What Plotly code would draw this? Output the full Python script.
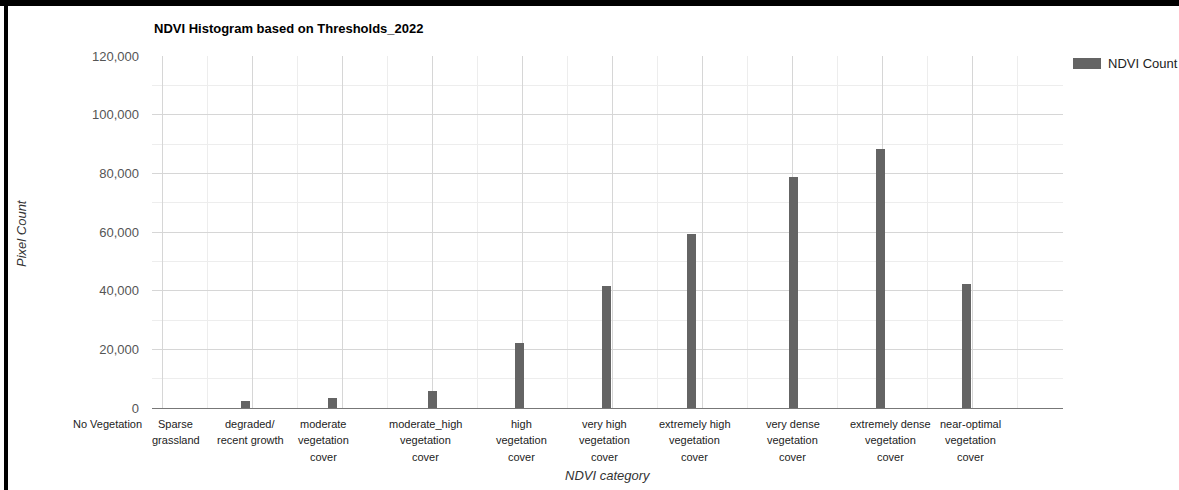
import plotly.graph_objects as go

# NDVI classes, where their labels sit on the NDVI axis, and the histogram counts
categories = [
    "No Vegetation",
    "Sparse\ngrassland",
    "degraded/\nrecent growth",
    "moderate\nvegetation\ncover",
    "moderate_high\nvegetation\ncover",
    "high\nvegetation\ncover",
    "very high\nvegetation\ncover",
    "extremely high\nvegetation\ncover",
    "very dense\nvegetation\ncover",
    "extremely dense\nvegetation\ncover",
    "near-optimal\nvegetation\ncover",
]
label_ndvi = [-0.062, 0.014, 0.097, 0.178, 0.292, 0.398, 0.491, 0.591, 0.700, 0.809, 0.898]
bar_ndvi = [-0.050, 0.000, 0.092, 0.188, 0.300, 0.396, 0.493, 0.588, 0.701, 0.797, 0.893]
pixel_counts = [0, 0, 2400, 3300, 5800, 22300, 41600, 59400, 78700, 88400, 42400]

y_ticks = [0, 20000, 40000, 60000, 80000, 100000, 120000]

W, H = 1179, 490
ML, MR, MT, MB = 152, 116, 56, 82
X_RANGE = [-0.01222, 1.0004]
Y_RANGE = [0, 120000]

FONT = "Liberation Sans, Arial, sans-serif"
BAR_COLOR = "#646464"


def ndvi_to_paper(v):
    return (v - X_RANGE[0]) / (X_RANGE[1] - X_RANGE[0])


def px_x(px):
    return (px - ML) / (W - ML - MR)


def px_y(py):
    return (H - MB - py) / (H - MT - MB)


fig = go.Figure()
fig.add_trace(
    go.Bar(
        x=bar_ndvi,
        y=pixel_counts,
        width=0.01,
        marker=dict(color=BAR_COLOR, line=dict(width=0)),
        name="NDVI Count",
        showlegend=False,
        hoverinfo="x+y",
    )
)

annotations = []

# category labels under the axis, one line at a time
for text, pos in zip(categories, label_ndvi):
    for j, line in enumerate(text.split("\n")):
        annotations.append(
            dict(
                text=line,
                x=ndvi_to_paper(pos),
                y=0,
                xref="paper",
                yref="paper",
                xanchor="center",
                yanchor="middle",
                yshift=-(16 + 16.3 * j),
                showarrow=False,
                font=dict(family=FONT, size=11, color="#222222"),
            )
        )

# title
annotations.append(
    dict(
        text="NDVI Histogram based on Thresholds_2022",
        x=px_x(152),
        y=px_y(28.5),
        xref="paper",
        yref="paper",
        xanchor="left",
        yanchor="middle",
        showarrow=False,
        font=dict(family=FONT, size=13, color="#000000", weight="bold"),
    )
)

# axis titles
annotations.append(
    dict(
        text="NDVI category",
        x=0.5,
        y=px_y(475),
        xref="paper",
        yref="paper",
        xanchor="center",
        yanchor="middle",
        showarrow=False,
        font=dict(family=FONT, size=13, color="#333333", style="italic"),
    )
)
annotations.append(
    dict(
        text="Pixel Count",
        x=px_x(21),
        y=px_y(233),
        xref="paper",
        yref="paper",
        xanchor="center",
        yanchor="middle",
        textangle=-90,
        showarrow=False,
        font=dict(family=FONT, size=13, color="#333333", style="italic"),
    )
)

# legend entry
annotations.append(
    dict(
        text="NDVI Count",
        x=px_x(1106),
        y=px_y(63.5),
        xref="paper",
        yref="paper",
        xanchor="left",
        yanchor="middle",
        showarrow=False,
        font=dict(family=FONT, size=13, color="#222222"),
    )
)

shapes = [
    # legend swatch
    dict(
        type="rect",
        xref="paper",
        yref="paper",
        x0=px_x(1073),
        x1=px_x(1101),
        y0=px_y(69),
        y1=px_y(58),
        fillcolor=BAR_COLOR,
        line=dict(width=0),
    ),
    # frame: top and left edges
    dict(
        type="rect",
        xref="paper",
        yref="paper",
        x0=px_x(0),
        x1=px_x(W),
        y0=px_y(6),
        y1=px_y(0),
        fillcolor="#000000",
        line=dict(width=0),
    ),
    dict(
        type="rect",
        xref="paper",
        yref="paper",
        x0=px_x(4),
        x1=px_x(8),
        y0=px_y(H),
        y1=px_y(0),
        fillcolor="#000000",
        line=dict(width=0),
    ),
]

fig.update_layout(
    width=W,
    height=H,
    margin=dict(l=ML, r=MR, t=MT, b=MB, pad=0),
    paper_bgcolor="#ffffff",
    plot_bgcolor="#ffffff",
    showlegend=False,
    bargap=0,
    font=dict(family=FONT),
    annotations=annotations,
    shapes=shapes,
    xaxis=dict(
        range=X_RANGE,
        tickmode="linear",
        tick0=0,
        dtick=0.1,
        showticklabels=False,
        ticks="",
        showgrid=True,
        gridcolor="#d6d6d6",
        gridwidth=1,
        minor=dict(tickmode="linear", tick0=0, dtick=0.05, showgrid=True, gridcolor="#ededed", gridwidth=1),
        zeroline=False,
        showline=True,
        linecolor="#777777",
        linewidth=1,
        fixedrange=True,
    ),
    yaxis=dict(
        range=Y_RANGE,
        tickmode="array",
        tickvals=y_ticks,
        tickformat=",d",
        ticks="",
        ticklabelstandoff=12,
        tickfont=dict(family=FONT, size=13, color="#555555"),
        showgrid=True,
        gridcolor="#d6d6d6",
        gridwidth=1,
        minor=dict(tickmode="linear", tick0=0, dtick=10000, showgrid=True, gridcolor="#ededed", gridwidth=1),
        zeroline=False,
        showline=False,
        fixedrange=True,
    ),
)

fig.write_html("out.html")
